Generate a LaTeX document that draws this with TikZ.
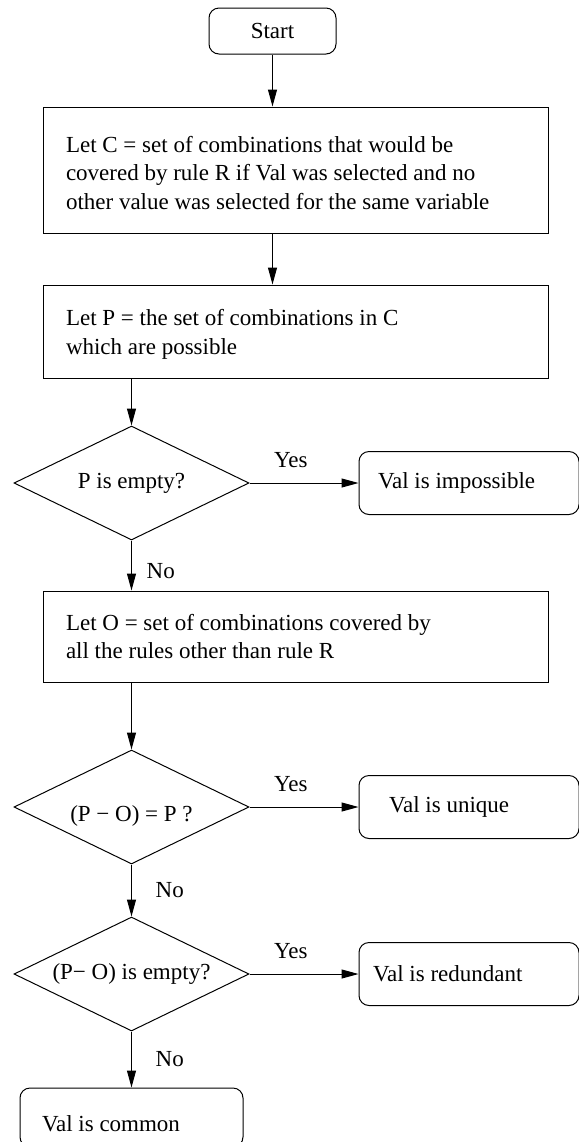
\documentclass[tikz,border=0pt]{standalone}
\usepackage{fontspec}
\setmainfont{Liberation Serif}
\usepackage{tikz}
\usetikzlibrary{positioning}
\usetikzlibrary{shapes.geometric}
\usetikzlibrary{arrows.meta}

\begin{document}
\begin{tikzpicture}[
font=\fontsize{11.5pt}{14.25pt}\selectfont,
every path/.style={line width=0.5pt},
>={Triangle[length=8.5pt,width=4.5pt]},
term/.style={rectangle, rounded corners=5pt, draw, minimum width=63.5pt, minimum height=23pt},
proc/.style={rectangle, draw, minimum width=252.5pt, text width=229.5pt, align=flush left, inner xsep=0pt},
decide/.style={diamond, draw, aspect=2.06, minimum width=117.5pt, minimum height=57pt, inner sep=0pt},
result/.style={rectangle, rounded corners=5pt, draw, minimum width=110pt, minimum height=31.5pt, align=flush left, inner xsep=0pt}
]
\useasboundingbox (0,0) rectangle (289.5pt,-571pt);
\node[term] (start) at (136.25pt,-15.5pt) {Start};
\node[proc, below=26pt of start, xshift=11.5pt, minimum height=63pt, text height=11pt] (setc) {Let C = set of combinations that would be\\ covered by rule R if Val was selected and no\\ other value was selected for the same variable};
\node[proc, below=25.5pt of setc, minimum height=46.5pt, text height=11pt] (setp) {Let P = the set of combinations in C\\ which are possible};
\node[decide, below=23.5pt of setp.south west, xshift=44.5pt] (pempty) {P is empty?};
\node[result, right=54.5pt of pempty, text width=91pt] (impossible) {Val is impossible};
\node[proc, below=106pt of setp, minimum height=45.5pt] (seto) {Let O = set of combinations covered by\\ all the rules other than rule R};
\node[decide, below=104.5pt of pempty, text height=17pt, text depth=2.5pt] (same) {(P − O) = P ?};
\node[result, right=54.5pt of same, text width=80pt] (unique) {Val is unique};
\node[decide, below=26pt of same] (diffempty) {(P− O) is empty?};
\node[result, right=54.5pt of diffempty, text width=96pt] (redundant) {Val is redundant};
\node[result, below=28pt of diffempty, minimum width=111.5pt, minimum height=29.5pt, text width=89.5pt, text height=15pt, text depth=1pt] (common) {Val is common};
\draw[->] (start) -- (start |- setc.north);
\draw[->] (start |- setc.south) -- (start |- setp.north);
\draw[->] (pempty.north |- setp.south) -- (pempty.north);
\draw[->] (pempty) -- node[above=4pt, pos=0.38] (yes1) {Yes} (impossible);
\draw[->] (pempty.south) -- node[right=4pt, pos=0.62] (no1) {No} (pempty.south |- seto.north);
\draw[->] (same.north |- seto.south) -- (same.north);
\draw[->] (same) -- node[above=4pt, pos=0.38] (yes2) {Yes} (unique);
\draw[->] (same.south) -- node[right=8.5pt] (no2) {No} (diffempty.north);
\draw[->] (diffempty) -- node[above=4pt, pos=0.38] (yes3) {Yes} (redundant);
\draw[->] (diffempty.south) -- node[right=8.5pt] (no3) {No} (common.north);
\end{tikzpicture}
\end{document}
